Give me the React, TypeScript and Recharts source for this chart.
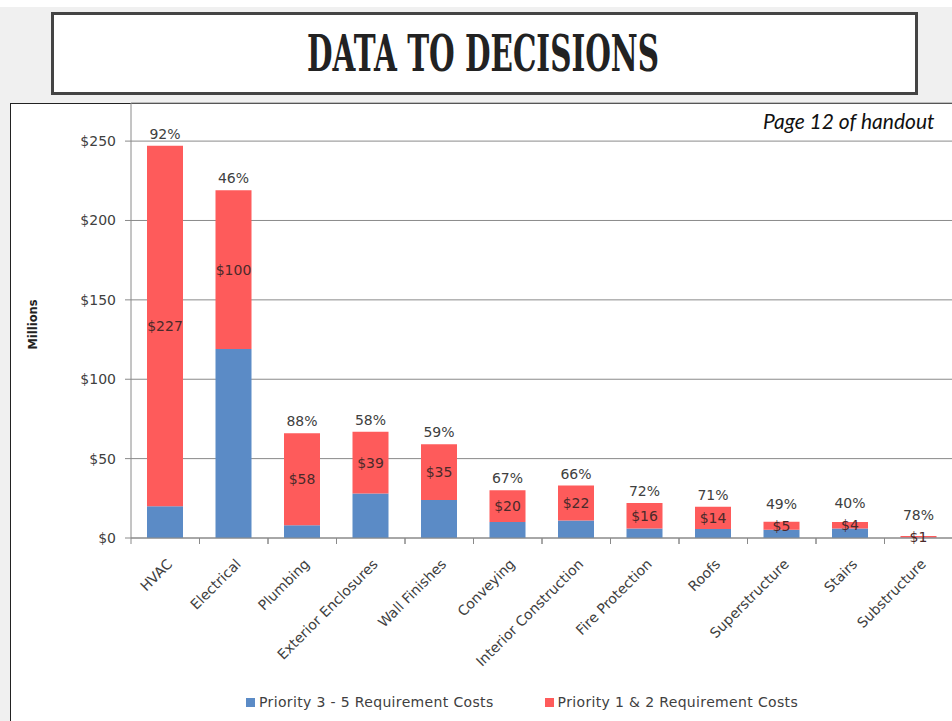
import { BarChart, Bar, XAxis, YAxis, CartesianGrid, Legend, LabelList } from "recharts";

// Requirement costs by building system, $ millions
const systems = [
  "HVAC",
  "Electrical",
  "Plumbing",
  "Exterior Enclosures",
  "Wall Finishes",
  "Conveying",
  "Interior Construction",
  "Fire Protection",
  "Roofs",
  "Superstructure",
  "Stairs",
  "Substructure",
];
const priority35 = [20, 119, 8, 28, 24, 10, 11, 6, 5.7, 5.2, 6, 0.3];
const priority12 = [227, 100, 58, 39, 35, 20, 22, 16, 14, 5, 4, 1];
const priorityShare = [92, 46, 88, 58, 59, 67, 66, 72, 71, 49, 40, 78];
const yTicks = [0, 50, 100, 150, 200, 250];

const data = systems.map((name, i) => ({
  name,
  low: priority35[i],
  high: priority12[i],
  pct: priorityShare[i],
}));

const FONT = "'DejaVu Sans', sans-serif";
const BLUE = "#5b8bc6";
const RED = "#fe5b5b";
const AXIS = "#8a8a8a";
const TEXT = "#404040";

const CHART_W = 960;
const CHART_H = 721;
const Y_AXIS_W = 131;
const MARGIN = { top: 103, right: 7, left: 0, bottom: 0 };
const HALF_BAND = (CHART_W - Y_AXIS_W - MARGIN.right) / systems.length / 2;

function SystemTick({ x, y, payload }: any) {
  const ax = x + 8;
  const ay = y + 27;
  return (
    <g>
      <line x1={x - HALF_BAND} y1={y} x2={x - HALF_BAND} y2={y + 6} stroke={AXIS} />
      <line x1={x + HALF_BAND} y1={y} x2={x + HALF_BAND} y2={y + 6} stroke={AXIS} />
      <text
        x={ax}
        y={ay}
        transform={`rotate(-45, ${ax}, ${ay})`}
        textAnchor="end"
        fontSize={14}
        fontFamily={FONT}
        fill={TEXT}
      >
        {payload.value}
      </text>
    </g>
  );
}

function MillionsLabel({ viewBox }: any) {
  const cx = viewBox.x + 33;
  const cy = viewBox.y + viewBox.height / 2 + 4;
  return (
    <text
      x={cx}
      y={cy}
      transform={`rotate(-90, ${cx}, ${cy})`}
      textAnchor="middle"
      dominantBaseline="central"
      fontSize={11.5}
      fontWeight="bold"
      fontFamily={FONT}
      fill="#222"
    >
      Millions
    </text>
  );
}

// share label sits above the stack, lifted clear of the value label on short bars
function ShareLabel({ x, y, width, height, value }: any) {
  const base = Math.min(y - 7, y + height / 2 - 17);
  return (
    <text x={x + width / 2} y={base} textAnchor="middle" fontSize={14} fontFamily={FONT} fill={TEXT}>
      {`${value}%`}
    </text>
  );
}

function CostLegend({ payload }: any) {
  const items = [...(payload || [])].sort((a: any, b: any) => (a.dataKey === "low" ? -1 : b.dataKey === "low" ? 1 : 0));
  return (
    <div
      style={{
        display: "flex",
        alignItems: "center",
        fontFamily: FONT,
        fontSize: 14,
        letterSpacing: 0.35,
        color: TEXT,
      }}
    >
      {items.map((item: any, i: number) => (
        <div key={item.value} style={{ display: "flex", alignItems: "center", marginRight: i === 0 ? 51 : 0 }}>
          <span style={{ width: 9, height: 9, background: item.color, display: "inline-block", marginRight: 4 }} />
          <span>{item.value}</span>
        </div>
      ))}
    </div>
  );
}

export default function App() {
  return (
    <div
      style={{
        position: "absolute",
        left: 0,
        top: 0,
        width: 952,
        height: 721,
        overflow: "hidden",
        background: "#f0f0f0",
      }}
    >
      <div style={{ position: "absolute", left: 0, top: 0, width: 952, height: 7, background: "#fff" }} />
      <div
        style={{
          position: "absolute",
          left: 51,
          top: 12,
          width: 867,
          height: 83,
          boxSizing: "border-box",
          border: "3px solid #444",
          background: "#fff",
        }}
      >
        <svg width={861} height={77} style={{ display: "block" }}>
          <text
            x={429}
            y={56}
            textAnchor="middle"
            textLength={352}
            lengthAdjust="spacingAndGlyphs"
            fontFamily="'DejaVu Serif', serif"
            fontWeight="bold"
            fontSize={50}
            fill="#222"
          >
            DATA TO DECISIONS
          </text>
        </svg>
      </div>
      <div
        style={{
          position: "absolute",
          left: 10,
          top: 103,
          width: 960,
          height: 700,
          border: "1px solid #222",
          background: "#fff",
        }}
      />
      <div style={{ position: "absolute", left: 0, top: 0 }}>
        <BarChart width={CHART_W} height={CHART_H} data={data} margin={MARGIN}>
          <CartesianGrid vertical={false} stroke={AXIS} />
          <XAxis
            dataKey="name"
            interval={0}
            height={CHART_H - 538}
            tickSize={0}
            tickMargin={0}
            axisLine={{ stroke: AXIS }}
            tick={<SystemTick />}
          />
          <YAxis
            width={Y_AXIS_W}
            domain={[0, 274]}
            ticks={yTicks}
            allowDataOverflow
            tickFormatter={(v: number) => `$${v}`}
            axisLine={{ stroke: AXIS }}
            tickLine={{ stroke: AXIS }}
            tickMargin={9}
            tick={{ fontSize: 14, fontFamily: FONT, fill: TEXT }}
            label={<MillionsLabel />}
          />
          <Legend
            verticalAlign="middle"
            align="center"
            layout="horizontal"
            wrapperStyle={{ left: 246, top: 694, width: 660 }}
            content={<CostLegend />}
          />
          <Bar dataKey="low" name="Priority 3 - 5 Requirement Costs" stackId="cost" fill={BLUE} barSize={36} isAnimationActive={false} />
          <Bar dataKey="high" name="Priority 1 & 2 Requirement Costs" stackId="cost" fill={RED} barSize={36} isAnimationActive={false}>
            <LabelList
              dataKey="high"
              position="center"
              formatter={(v: number) => `$${v}`}
              style={{ fontSize: 14, fontFamily: FONT, fill: "#4a2a2a" }}
            />
            <LabelList dataKey="pct" content={<ShareLabel />} />
          </Bar>
        </BarChart>
      </div>
      <div
        style={{
          position: "absolute",
          left: 763,
          top: 108,
          fontFamily: "Lato, sans-serif",
          fontStyle: "italic",
          fontSize: 21,
          color: "#111",
          whiteSpace: "nowrap",
        }}
      >
        Page 12 of handout
      </div>
    </div>
  );
}
